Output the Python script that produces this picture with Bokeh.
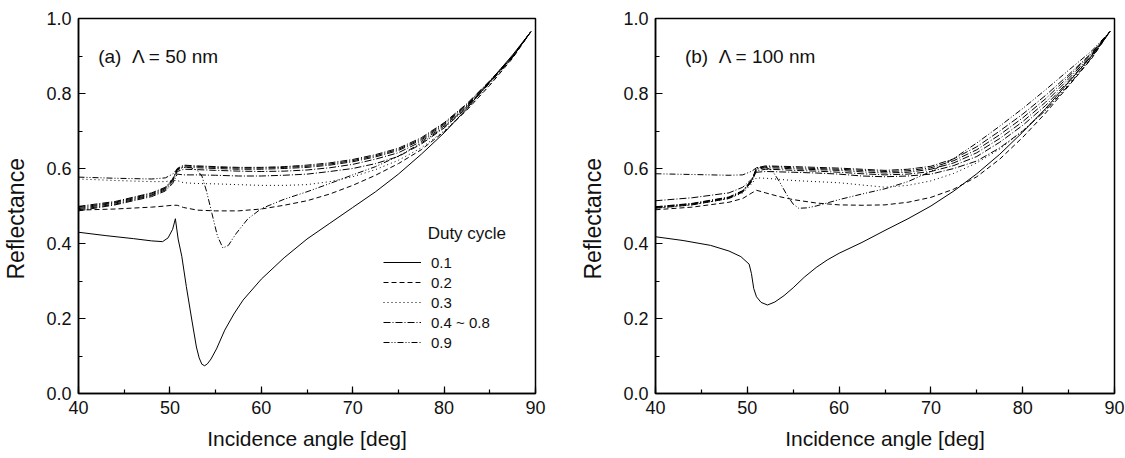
from bokeh.plotting import figure
from bokeh.layouts import row
from bokeh.models import (Range1d, SingleIntervalTicker, PrintfTickFormatter,
                          Legend, LegendItem, Label)
from bokeh.embed import file_html
from bokeh.resources import INLINE

FONT = "Liberation Sans"

# ---------------- data: panel (a)  Lambda = 50 nm ----------------
a_sol_x = [40, 43, 46, 48, 49.2, 49.8, 50.3, 50.6, 50.9, 51.3, 51.8, 52.4, 52.9, 53.2, 53.5, 53.8, 54.1, 54.5, 55.1,
           56, 57, 58, 60, 62.5, 65, 67.5, 70, 72.5, 75, 77.5, 80, 82.5, 85, 87.5, 89.5]
a_sol_y = [0.430, 0.421, 0.413, 0.407, 0.405, 0.415, 0.438, 0.466, 0.412, 0.366, 0.285, 0.196, 0.124, 0.095, 0.078,
           0.074, 0.079, 0.092, 0.119, 0.169, 0.212, 0.249, 0.305, 0.362, 0.412, 0.454, 0.496, 0.538, 0.585, 0.638,
           0.695, 0.760, 0.832, 0.903, 0.965]

a_com_x = [40, 44, 48, 49.5, 50.3, 50.8, 51.5, 53, 55, 57.5, 60, 62.5, 65, 67.5, 70, 72.5, 75, 77.5, 80, 82.5, 85,
           87.5, 89.5]
a_d02 = [0.489, 0.492, 0.497, 0.500, 0.502, 0.502, 0.496, 0.489, 0.487, 0.487, 0.492, 0.502, 0.514, 0.532, 0.555,
         0.582, 0.613, 0.650, 0.698, 0.756, 0.822, 0.894, 0.965]
a_d03 = [0.572, 0.568, 0.565, 0.565, 0.568, 0.568, 0.562, 0.560, 0.559, 0.557, 0.555, 0.555, 0.557, 0.565, 0.578,
         0.597, 0.622, 0.655, 0.700, 0.757, 0.824, 0.896, 0.965]
a_d04 = [0.487, 0.503, 0.525, 0.540, 0.560, 0.585, 0.583, 0.583, 0.582, 0.580, 0.580, 0.582, 0.585, 0.592, 0.600,
         0.613, 0.632, 0.665, 0.708, 0.762, 0.828, 0.897, 0.965]
a_d05 = [0.490, 0.505, 0.528, 0.543, 0.565, 0.592, 0.598, 0.597, 0.595, 0.593, 0.592, 0.593, 0.596, 0.602, 0.611,
         0.625, 0.642, 0.672, 0.713, 0.766, 0.830, 0.898, 0.965]
a_d06 = [0.493, 0.508, 0.530, 0.546, 0.568, 0.596, 0.604, 0.602, 0.600, 0.598, 0.598, 0.600, 0.603, 0.609, 0.618,
         0.631, 0.648, 0.676, 0.717, 0.769, 0.832, 0.899, 0.965]
a_d07 = [0.496, 0.510, 0.533, 0.548, 0.570, 0.598, 0.607, 0.605, 0.603, 0.601, 0.601, 0.603, 0.606, 0.612, 0.621,
         0.634, 0.651, 0.679, 0.720, 0.771, 0.833, 0.900, 0.965]
a_d08 = [0.499, 0.512, 0.535, 0.550, 0.572, 0.600, 0.609, 0.607, 0.605, 0.603, 0.603, 0.605, 0.609, 0.615, 0.624,
         0.637, 0.654, 0.682, 0.722, 0.773, 0.834, 0.900, 0.965]

a_d09_x = [40, 44, 48, 49.5, 50.3, 50.8, 51.5, 52.3, 53, 53.5, 54, 54.6, 55.2, 55.8, 56.4, 57.2, 58.5, 60, 62.5, 65,
           67.5, 70, 72.5, 75, 77.5, 80, 82.5, 85, 87.5, 89.5]
a_d09_y = [0.577, 0.574, 0.572, 0.575, 0.585, 0.598, 0.603, 0.602, 0.595, 0.580, 0.540, 0.480, 0.420, 0.388, 0.395,
           0.425, 0.465, 0.493, 0.518, 0.538, 0.560, 0.583, 0.605, 0.633, 0.668, 0.710, 0.765, 0.830, 0.898, 0.965]

# ---------------- data: panel (b)  Lambda = 100 nm ----------------
b_sol_x = [40, 43, 46, 48, 49.3, 50.2, 50.45, 50.7, 51, 51.5, 52.2, 53, 54, 55, 56.2, 57.5, 58.7, 60, 62.5, 65, 67.5,
           70, 72.5, 75, 77.5, 80, 82.5, 85, 87.5, 89.5]
b_sol_y = [0.418, 0.408, 0.395, 0.380, 0.365, 0.345, 0.320, 0.280, 0.258, 0.243, 0.236, 0.244, 0.261, 0.282, 0.310,
           0.336, 0.356, 0.374, 0.403, 0.435, 0.466, 0.500, 0.540, 0.586, 0.638, 0.697, 0.760, 0.830, 0.900, 0.965]

b_com_x = [40, 44, 48, 49.5, 50.5, 51, 52, 53.5, 55, 57.5, 60, 62.5, 65, 67.5, 70, 72.5, 75, 77.5, 80, 82.5, 85,
           87.5, 89.5]
b_d02 = [0.490, 0.497, 0.510, 0.520, 0.535, 0.542, 0.535, 0.525, 0.517, 0.508, 0.503, 0.502, 0.503, 0.510, 0.523,
         0.545, 0.578, 0.625, 0.683, 0.748, 0.820, 0.893, 0.965]
b_d03 = [0.494, 0.503, 0.520, 0.535, 0.560, 0.575, 0.574, 0.571, 0.568, 0.565, 0.562, 0.556, 0.550, 0.555, 0.567,
         0.587, 0.615, 0.652, 0.700, 0.757, 0.825, 0.897, 0.965]
b_d04 = [0.514, 0.522, 0.535, 0.550, 0.572, 0.590, 0.592, 0.591, 0.590, 0.588, 0.585, 0.580, 0.578, 0.580, 0.585,
         0.600, 0.620, 0.655, 0.700, 0.755, 0.822, 0.895, 0.965]
b_d05 = [0.494, 0.503, 0.520, 0.537, 0.565, 0.594, 0.598, 0.597, 0.595, 0.593, 0.590, 0.586, 0.583, 0.585, 0.592,
         0.608, 0.632, 0.670, 0.715, 0.768, 0.833, 0.900, 0.965]
b_d06 = [0.496, 0.505, 0.522, 0.539, 0.567, 0.598, 0.602, 0.601, 0.599, 0.597, 0.595, 0.591, 0.588, 0.590, 0.598,
         0.615, 0.642, 0.680, 0.725, 0.777, 0.839, 0.903, 0.965]
b_d07 = [0.497, 0.506, 0.523, 0.540, 0.569, 0.600, 0.605, 0.604, 0.602, 0.600, 0.598, 0.595, 0.592, 0.594, 0.602,
         0.621, 0.650, 0.690, 0.735, 0.786, 0.845, 0.906, 0.965]
b_d08 = [0.498, 0.507, 0.524, 0.541, 0.570, 0.602, 0.607, 0.606, 0.605, 0.603, 0.601, 0.598, 0.595, 0.598, 0.606,
         0.626, 0.658, 0.700, 0.745, 0.795, 0.850, 0.908, 0.965]

b_d09_x = [40, 44, 48, 49.5, 50.5, 51, 52, 52.7, 53.5, 54.3, 55, 55.6, 56.5, 57.5, 60, 62.5, 65, 67.5, 70, 72.5, 75,
           77.5, 80, 82.5, 85, 87.5, 89.5]
b_d09_y = [0.586, 0.584, 0.582, 0.583, 0.593, 0.602, 0.603, 0.595, 0.565, 0.530, 0.505, 0.494, 0.495, 0.500, 0.517,
           0.532, 0.546, 0.565, 0.592, 0.627, 0.668, 0.713, 0.760, 0.810, 0.862, 0.913, 0.965]

legend_labels = ["0.1", "0.2", "0.3", "0.4 ~ 0.8", "0.9"]
dashes = {"0.1": "solid", "0.2": "5 3", "0.3": "1 3", "0.4 ~ 0.8": "7 2 1 2", "0.9": "6 2 1 2 1 2"}

panel_a = [("0.1", a_sol_x, a_sol_y), ("0.2", a_com_x, a_d02), ("0.3", a_com_x, a_d03),
           ("0.4 ~ 0.8", a_com_x, a_d04), ("0.4 ~ 0.8", a_com_x, a_d05), ("0.4 ~ 0.8", a_com_x, a_d06),
           ("0.4 ~ 0.8", a_com_x, a_d07), ("0.4 ~ 0.8", a_com_x, a_d08), ("0.9", a_d09_x, a_d09_y)]
panel_b = [("0.1", b_sol_x, b_sol_y), ("0.2", b_com_x, b_d02), ("0.3", b_com_x, b_d03),
           ("0.4 ~ 0.8", b_com_x, b_d04), ("0.4 ~ 0.8", b_com_x, b_d05), ("0.4 ~ 0.8", b_com_x, b_d06),
           ("0.4 ~ 0.8", b_com_x, b_d07), ("0.4 ~ 0.8", b_com_x, b_d08), ("0.9", b_d09_x, b_d09_y)]

NB = "\u00a0"


def build(panel_text, label_x, curves, width, border_right, with_legend):
    p = figure(width=width, height=458, x_range=Range1d(40, 90), y_range=Range1d(0, 1),
               output_backend="svg", toolbar_location=None,
               min_border_left=77, min_border_right=border_right,
               min_border_top=18, min_border_bottom=65)
    p.grid.visible = False
    p.outline_line_color = "black"
    p.outline_line_width = 1.5
    p.outline_line_alpha = 1.0
    p.xaxis.ticker = SingleIntervalTicker(interval=10, num_minor_ticks=2)
    p.yaxis.ticker = SingleIntervalTicker(interval=0.2, num_minor_ticks=2)
    p.yaxis.formatter = PrintfTickFormatter(format="%.1f")
    for ax in (p.xaxis[0], p.yaxis[0]):
        ax.axis_line_width = 1.5
        ax.axis_line_color = "black"
        ax.major_tick_in = 7
        ax.major_tick_out = 0
        ax.minor_tick_in = 4
        ax.minor_tick_out = 0
        ax.major_tick_line_width = 1.2
        ax.minor_tick_line_width = 1.2
        ax.major_tick_line_color = "black"
        ax.minor_tick_line_color = "black"
        ax.major_label_text_font = FONT
        ax.major_label_text_font_size = "18px"
        ax.major_label_text_color = "#111111"
        ax.major_label_standoff = 7
        ax.axis_label_text_font = FONT
        ax.axis_label_text_font_style = "normal"
        ax.axis_label_text_color = "#111111"
    p.xaxis.axis_label = "Incidence angle [deg]"
    p.xaxis.axis_label_text_font_size = "21px"
    p.xaxis.axis_label_standoff = 10
    # trailing no-break spaces push the visible title a little below the frame centre
    p.yaxis.axis_label = "Reflectance" + NB * 4
    p.yaxis.axis_label_text_font_size = "23px"
    p.yaxis.axis_label_standoff = 14

    first = {}
    for name, xs, ys in curves:
        r = p.line(xs, ys, line_color="black", line_width=1.0, line_dash=dashes[name])
        first.setdefault(name, r)

    p.add_layout(Label(x=label_x, y=0.9, text=panel_text, text_baseline="middle",
                       text_font=FONT, text_font_size="19px", text_color="#111111"))

    if with_legend:
        items = [LegendItem(label=lab, renderers=[first[lab]]) for lab in legend_labels]
        leg = Legend(items=items, location=(305, 41), orientation="vertical",
                     label_text_font=FONT, label_text_font_size="15px", label_text_color="#111111",
                     glyph_width=38, glyph_height=20, label_height=20, label_standoff=10,
                     spacing=0, padding=0, margin=0,
                     border_line_alpha=0, background_fill_alpha=0)
        p.add_layout(leg)
        p.add_layout(Label(x=78.2, y=0.427, text="Duty cycle", text_baseline="middle",
                           text_font=FONT, text_font_size="17px", text_color="#111111"))
    return p


pa = build("(a)" + NB + NB + "\u039b = 50 nm", 42.15, panel_a, 577, 42, True)
pb = build("(b)" + NB + NB + "\u039b = 100 nm", 43.2, panel_b, 548, 11, False)

layout = row(pa, pb)
open("out.html", "w").write(file_html(layout, INLINE))
